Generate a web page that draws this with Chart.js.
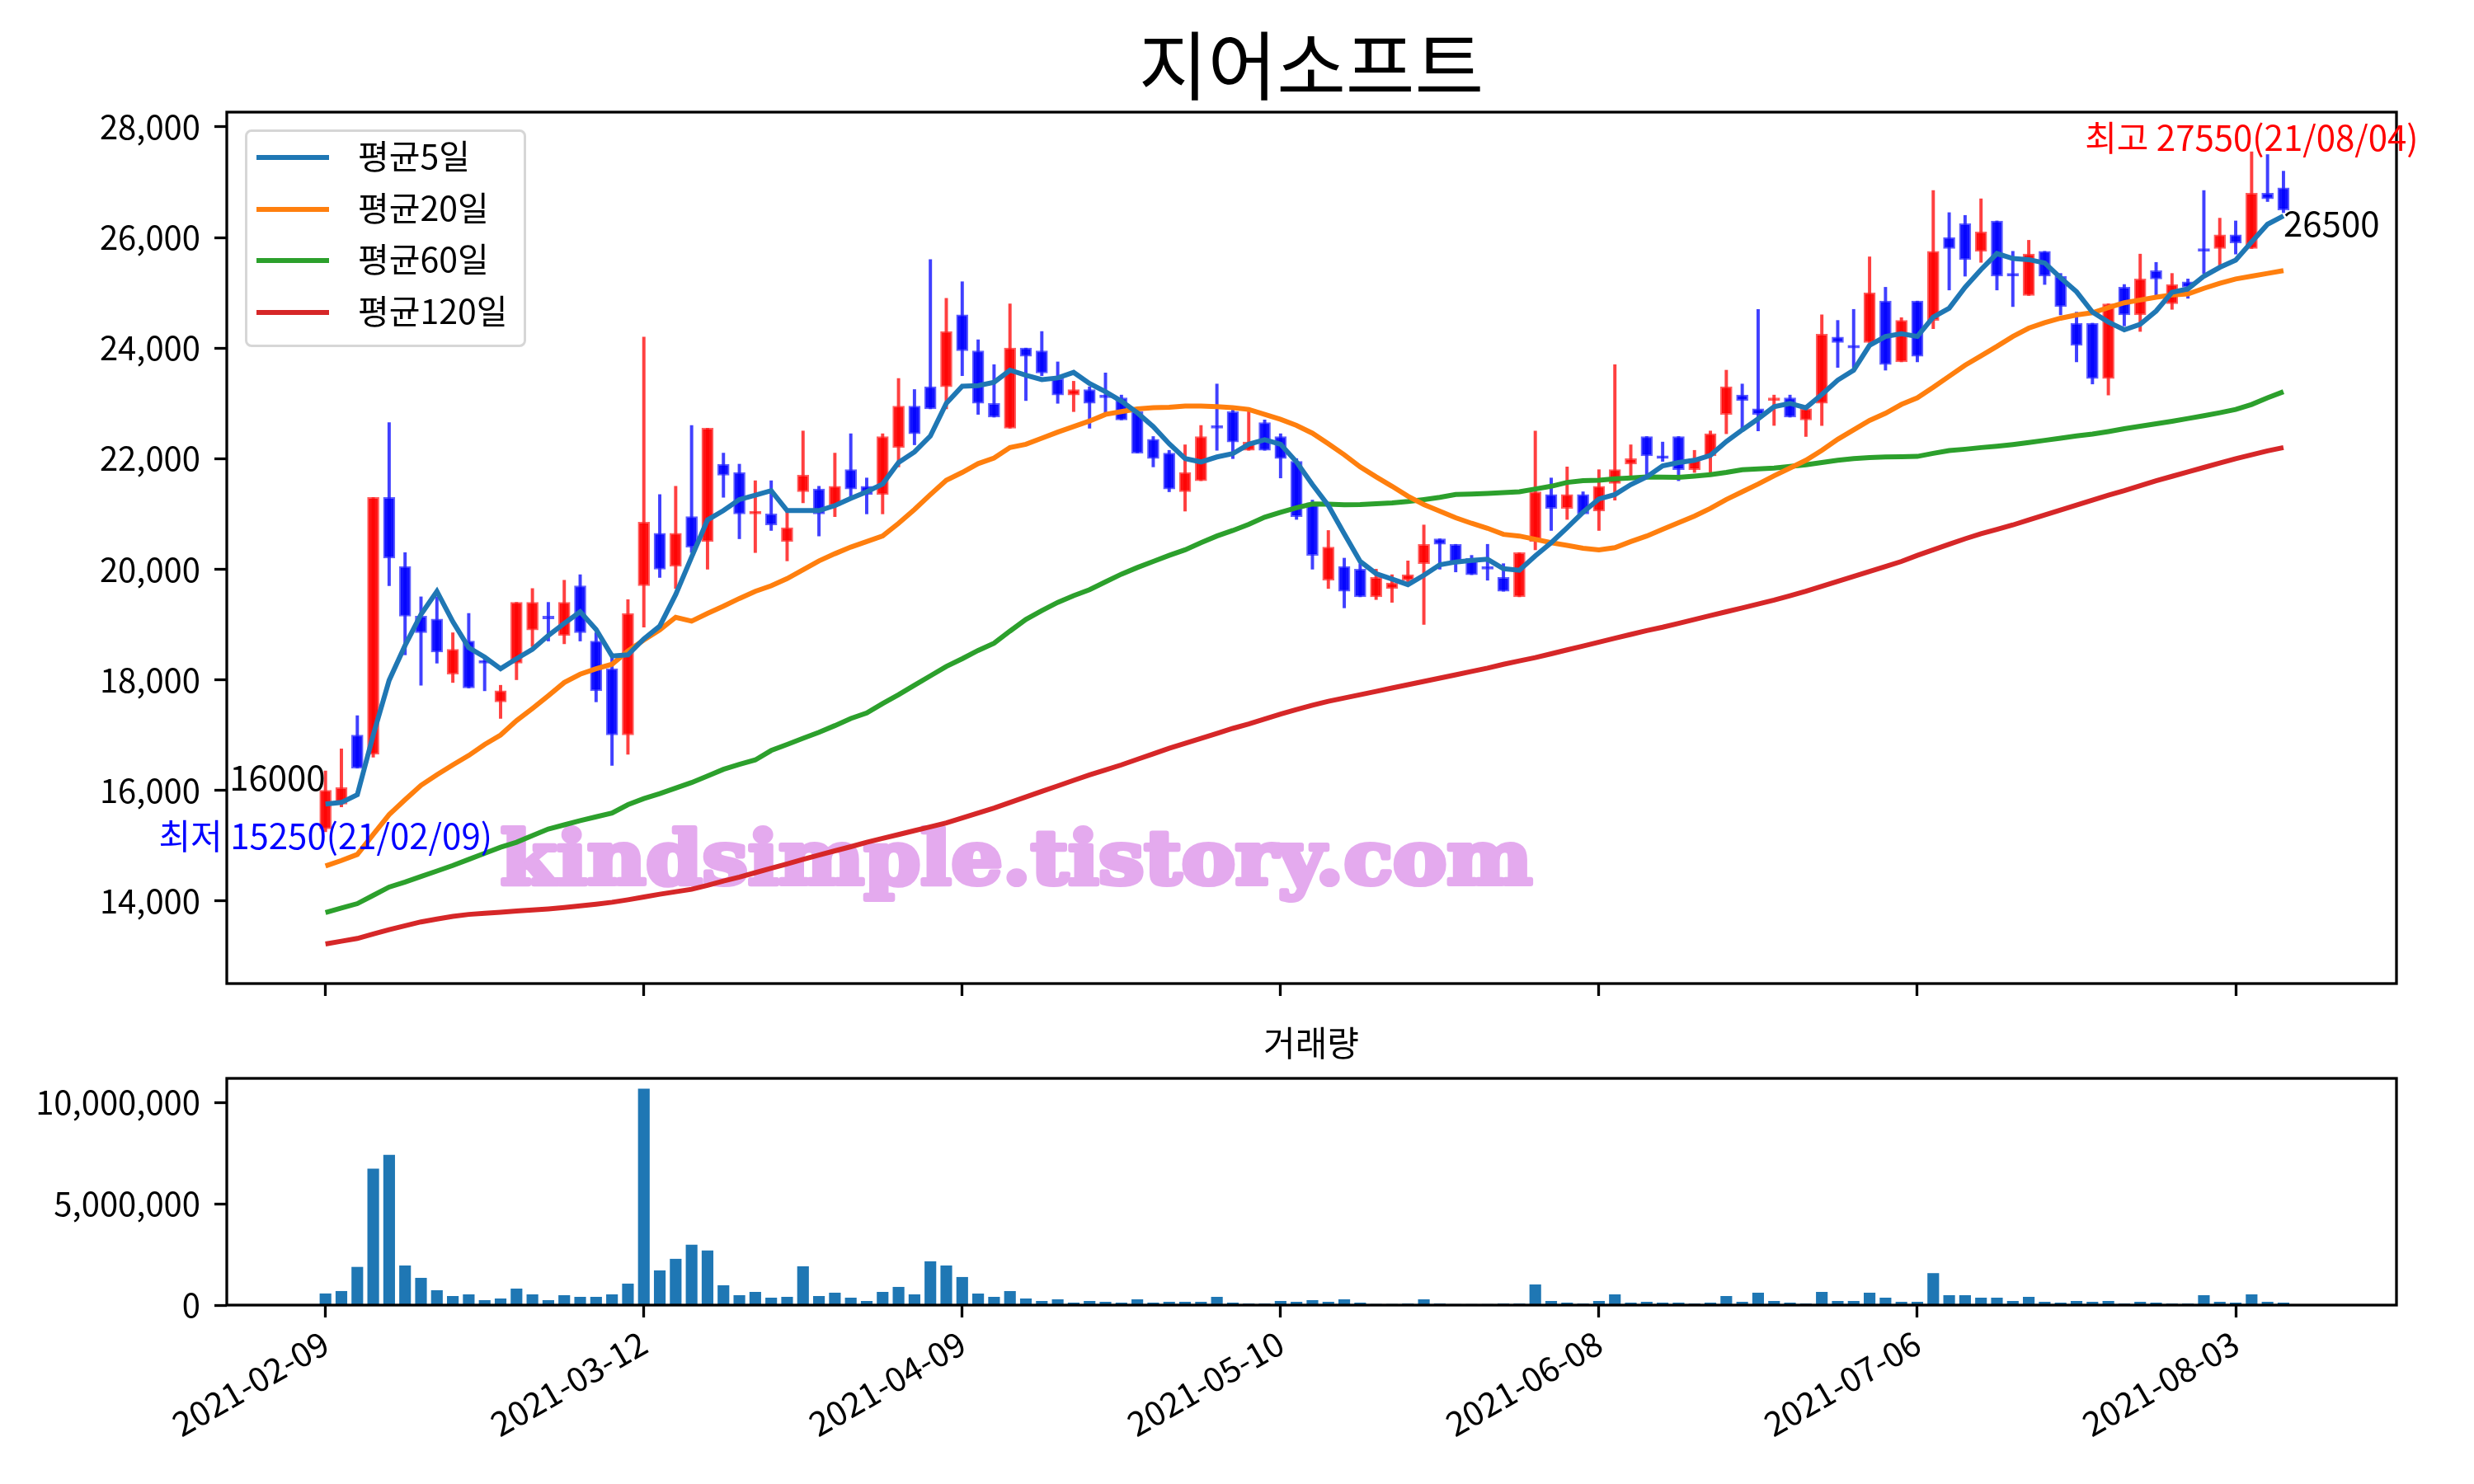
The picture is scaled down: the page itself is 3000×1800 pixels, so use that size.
<!DOCTYPE html>
<html>
<head>
<meta charset="utf-8">
<script src="https://cdn.jsdelivr.net/npm/chart.js@4.4.1/dist/chart.umd.min.js"></script>
<style>
  html, body { margin: 0; padding: 0; background: #fff; }
  #page { position: relative; width: 3000px; height: 1800px; overflow: hidden;
          font-family: "Noto Sans CJK KR", "Noto Sans", sans-serif; }
  canvas { position: absolute; left: 0; top: 0; }
  .txt { position: absolute; white-space: nowrap; line-height: 1; color: #000; }
  #legend { position: absolute; left: 297px; top: 157px; width: 341px; height: 264px;
            box-sizing: border-box; border: 3px solid #d6d6d6; border-radius: 8px;
            background: rgba(255,255,255,0.8); }
  .swatch { position: absolute; left: 311px; width: 88px; height: 6px; }
</style>
</head>
<body>
<div id="page">
  <canvas id="price" width="3000" height="1800"></canvas>
  <canvas id="volume" width="3000" height="1800"></canvas>
  <div class="txt" id="title" style="left:590px; width:2000px; text-align:center; top:29px; font-size:91px;">지어소프트</div>
  <div class="txt" id="volTitle" style="left:1090px; width:1000px; text-align:center; top:1242px; font-size:42px;">거래량</div>
  <div id="legend"></div>
  <div id="legendItems"></div>
</div>
<script>
// trading days 2021-02-09 .. 2021-08-06, x axis is the day index
const tickIndex = [0, 20, 40, 60, 80, 100, 120];
const tickLabels = ['2021-02-09', '2021-03-12', '2021-04-09', '2021-05-10', '2021-06-08', '2021-07-06', '2021-08-03'];
const priceTicks = [14000, 16000, 18000, 20000, 22000, 24000, 26000, 28000];
const volumeTicks = [0, 5000000, 10000000];

const open = [
  15300, 15750, 17000, 16650, 21300, 20050, 19150, 19100, 18100, 18700,
  18350, 17600, 18300, 18900, 19150, 18800, 19700, 18700, 18200, 17000,
  19700, 20650, 20050, 20950, 20500, 21900, 21750, 21000, 21000, 20500,
  21400, 21450, 21150, 21800, 21500, 21350, 22200, 22950, 23300, 23300,
  24600, 23950, 23000, 22550, 24000, 23950, 23450, 23150, 23250, 23150,
  23100, 22850, 22350, 22100, 21400, 21600, 22600, 22850, 22150, 22650,
  22400, 21950, 21200, 19800, 20050, 20000, 19500, 19650, 19800, 20100,
  20550, 20450, 20200, 20050, 19850, 19500, 20500, 21350, 21100, 21350,
  21050, 21550, 21900, 22400, 22050, 22400, 21800, 22050, 22800, 23150,
  22900, 23050, 23100, 22700, 23000, 24200, 24050, 24100, 24850, 23750,
  24850, 24500, 26000, 26250, 25750, 26300, 25350, 24950, 25750, 25300,
  24450, 24450, 23450, 25100, 24600, 25400, 24800, 25200, 25800, 25800,
  26050, 25800, 26800, 26900
];
const high = [
  16350, 16750, 17350, 21300, 22650, 20300, 19500, 19500, 18850, 19200,
  18400, 17900, 19400, 19650, 19400, 19800, 19900, 18850, 18450, 19450,
  24200, 21350, 21500, 22600, 22550, 22100, 21900, 21600, 21600, 21050,
  22500, 21500, 22100, 22450, 21650, 22450, 23450, 23250, 25600, 24900,
  25200, 24150, 23700, 24800, 24000, 24300, 23750, 23400, 23300, 23550,
  23150, 22900, 22400, 22150, 22250, 22600, 23350, 22900, 22850, 22700,
  22450, 22000, 21250, 20700, 20200, 20100, 20000, 19900, 20150, 20800,
  20550, 20450, 20250, 20450, 20100, 20300, 22500, 21650, 21850, 21400,
  21800, 23700, 22250, 22400, 22300, 22400, 22150, 22500, 23600, 23350,
  24700, 23150, 23150, 22950, 24600, 24500, 24700, 25650, 25100, 24550,
  24850, 26850, 26450, 26400, 26700, 26300, 25750, 25950, 25750, 25350,
  24650, 24450, 24800, 25150, 25700, 25550, 25350, 25250, 26850, 26350,
  26300, 27550, 27500, 27200
];
const low = [
  15250, 15700, 16400, 16600, 19700, 18450, 17900, 18300, 17950, 17850,
  17800, 17300, 18000, 18600, 18700, 18650, 18700, 17600, 16450, 16650,
  18950, 19850, 19650, 20300, 20000, 21300, 20550, 20300, 20700, 20150,
  21200, 20600, 20950, 21300, 21000, 21000, 21850, 22250, 22900, 22900,
  23500, 22800, 22750, 22550, 23050, 23500, 23000, 22850, 22550, 22800,
  22700, 22100, 21850, 21400, 21050, 21600, 22150, 22000, 22150, 22150,
  21650, 20900, 20000, 19650, 19300, 19500, 19450, 19400, 19750, 19000,
  20000, 19950, 19900, 19800, 19600, 19500, 20350, 20700, 20900, 21000,
  20700, 21250, 21650, 21700, 21950, 21600, 21750, 21750, 22450, 22550,
  22500, 22600, 22750, 22400, 22600, 23650, 23650, 24100, 23600, 23750,
  23750, 24350, 25050, 25300, 25550, 25050, 24750, 24950, 25150, 24600,
  23750, 23350, 23150, 24400, 24300, 24950, 24700, 24900, 25350, 25500,
  25700, 25800, 26650, 26450
];
const close = [
  16000, 16050, 16400, 21300, 20200, 19150, 18850, 18500, 18550, 17850,
  18300, 17800, 19400, 19400, 19100, 19400, 18850, 17800, 17000, 19200,
  20850, 20000, 20650, 20400, 22550, 21700, 21000, 21050, 20800, 20750,
  21700, 21000, 21500, 21450, 21350, 22400, 22950, 22450, 22900, 24300,
  23950, 23000, 22750, 24000, 23850, 23550, 23150, 23250, 23000, 23100,
  22700, 22100, 22000, 21450, 21750, 22400, 22550, 22300, 22300, 22150,
  22000, 20950, 20250, 20400, 19600, 19500, 19850, 19750, 19900, 20450,
  20450, 20100, 19900, 20000, 19600, 20300, 21400, 21100, 21350, 21000,
  21500, 21800, 22000, 22050, 22000, 21800, 22000, 22450, 23300, 23050,
  22800, 23100, 22750, 22900, 24250, 24100, 24000, 25000, 23700, 24500,
  23850, 25750, 25800, 25600, 26100, 25300, 25300, 25700, 25300, 24750,
  24050, 23450, 24800, 24600, 25250, 25250, 25150, 25100, 25750, 26050,
  25900, 26800, 26700, 26500
];
const volume = [
  560000, 680000, 1870000, 6710000, 7400000, 1940000, 1330000, 720000, 435000, 516000,
  231000, 312000, 801000, 516000, 231000, 475000, 394000, 394000, 516000, 1046000,
  10660000, 1698000, 2268000, 2960000, 2676000, 964000, 475000, 638000, 353000, 394000,
  1900000, 435000, 598000, 353000, 190000, 638000, 883000, 516000, 2146000, 1940000,
  1372000, 557000, 394000, 679000, 312000, 190000, 272000, 109000, 190000, 149000,
  109000, 272000, 109000, 149000, 149000, 149000, 394000, 109000, 68000, 68000,
  190000, 149000, 231000, 149000, 272000, 109000, 40000, 40000, 68000, 272000,
  68000, 35000, 35000, 35000, 68000, 68000, 1005000, 190000, 109000, 68000,
  190000, 516000, 109000, 149000, 109000, 109000, 68000, 109000, 435000, 149000,
  598000, 190000, 109000, 68000, 638000, 190000, 190000, 598000, 353000, 149000,
  149000, 1563000, 475000, 475000, 353000, 353000, 190000, 394000, 149000, 109000,
  190000, 149000, 190000, 68000, 149000, 109000, 68000, 68000, 475000, 149000,
  109000, 516000, 149000, 109000
];

// moving averages
const ma5 = [
  15750, 15780, 15920, 17000, 17990, 18620, 19180, 19600, 19050, 18580,
  18410, 18200, 18380, 18550, 18800, 19020, 19230, 18910, 18430, 18450,
  18740, 18970, 19540, 20220, 20890, 21060, 21260, 21340, 21420, 21060,
  21060, 21060, 21150, 21280, 21400, 21540, 21930, 22120, 22410, 23000,
  23310, 23320, 23380, 23600, 23510, 23430, 23460, 23560, 23360, 23210,
  23040, 22830, 22580, 22270, 22000, 21940, 22030, 22090, 22260, 22340,
  22260, 21940, 21530, 21150, 20640, 20140, 19920, 19820, 19720, 19890,
  20080, 20130, 20160, 20180, 20010, 19980, 20240, 20480, 20750, 21030,
  21270, 21350, 21530, 21670, 21870, 21930, 21970, 22060, 22310, 22520,
  22720, 22940, 23000, 22920, 23160, 23420, 23600, 24050, 24210, 24260,
  24210, 24560, 24720, 25100, 25420, 25710, 25620, 25600, 25540, 25270,
  25020, 24650, 24470, 24330, 24430, 24670, 25010, 25070, 25300, 25460,
  25590, 25920, 26240, 26390
];
const ma20 = [
  14630, 14730, 14840, 15200, 15560, 15830, 16090, 16280, 16460, 16630,
  16830, 17000, 17260, 17480, 17710, 17950, 18100, 18200, 18280, 18520,
  18720, 18900, 19130, 19060, 19200, 19330, 19470, 19600, 19700, 19830,
  19990, 20150, 20280, 20400, 20500, 20600, 20830, 21080, 21350, 21610,
  21750, 21910, 22010, 22200, 22260, 22370, 22480, 22580, 22680, 22800,
  22850, 22900, 22920, 22930, 22950, 22950, 22940, 22920, 22890, 22800,
  22710, 22600, 22460, 22270, 22070, 21850, 21670, 21500, 21320, 21170,
  21050, 20930, 20830, 20740, 20630, 20600, 20540, 20480, 20430, 20380,
  20350, 20390, 20500, 20600, 20720, 20840, 20960, 21100, 21260, 21400,
  21540, 21690, 21830, 21970, 22150, 22350, 22520, 22690, 22820, 22980,
  23100, 23290, 23490, 23690, 23860, 24030, 24210, 24360, 24460, 24540,
  24600, 24640, 24730, 24820, 24870, 24920, 24960, 24980, 25080, 25170,
  25250, 25300, 25350, 25400
];
const ma60 = [
  13790, 13870, 13950, 14100, 14250, 14340, 14440, 14540, 14640, 14750,
  14860, 14970, 15060, 15180, 15300, 15375, 15450, 15520, 15590, 15740,
  15850, 15940, 16040, 16140, 16260, 16380, 16470, 16550, 16720, 16830,
  16940, 17050, 17170, 17300, 17400, 17570, 17730, 17900, 18070, 18240,
  18380, 18530, 18660, 18880, 19090, 19250, 19400, 19520, 19630, 19770,
  19910, 20030, 20140, 20250, 20350, 20480, 20600, 20700, 20810, 20940,
  21030, 21110, 21180, 21175, 21165, 21170, 21185, 21200, 21225, 21260,
  21300, 21350, 21360, 21370, 21385, 21400, 21450, 21500, 21570, 21600,
  21610, 21635, 21650, 21670, 21665, 21660, 21685, 21710, 21750, 21800,
  21815, 21830, 21860, 21890, 21930, 21970, 22000, 22020, 22030, 22035,
  22040, 22095, 22145, 22170, 22200, 22225, 22255, 22290, 22330, 22370,
  22410, 22445, 22490, 22540, 22585, 22630, 22675, 22725, 22775, 22830,
  22890, 22980, 23100, 23210
];
const ma120 = [
  13220, 13270, 13320, 13400, 13480, 13550, 13620, 13670, 13720, 13755,
  13775, 13795, 13815, 13835, 13855, 13880, 13910, 13940, 13975, 14020,
  14070, 14120, 14165, 14210, 14280, 14360, 14430, 14510, 14590, 14670,
  14750, 14830, 14905, 14980, 15060, 15130, 15200, 15270, 15340, 15410,
  15500, 15590, 15680, 15780, 15880, 15980, 16080, 16180, 16280, 16370,
  16460, 16560, 16660, 16760, 16850, 16940, 17030, 17120, 17200, 17290,
  17380, 17460, 17540, 17610, 17670, 17730, 17790, 17850, 17910, 17970,
  18030, 18090, 18150, 18210, 18280, 18340, 18400, 18470, 18540, 18610,
  18680, 18750, 18820, 18890, 18950, 19020, 19090, 19160, 19230, 19300,
  19370, 19440, 19520, 19600, 19690, 19780, 19870, 19960, 20050, 20140,
  20250, 20350, 20450, 20550, 20640, 20720, 20800, 20890, 20980, 21070,
  21160, 21250, 21340, 21420, 21510, 21600, 21680, 21760, 21840, 21920,
  22000, 22070, 22140, 22200
];
const maLabels = ['평균5일', '평균20일', '평균60일', '평균120일'];
const maColors = ['#1f77b4', '#ff7f0e', '#2ca02c', '#d62728'];

// annotation anchors
const lowNote = { idx: 0, date: '21/02/09' };
const highNote = { idx: 121, date: '21/08/04' };

const FONT = '"Noto Sans CJK KR", "Noto Sans", sans-serif';
Chart.defaults.font.family = FONT;
Chart.defaults.font.size = 40;
Chart.defaults.color = '#000';

const days = close.map((_, i) => i);
const isUp = close.map((c, i) => c >= open[i]);

// legend (html)
const legendItems = document.getElementById('legendItems');
maLabels.forEach((name, k) => {
    const top = 190.7 + k * 62.8;
    const sw = document.createElement('div');
    sw.className = 'swatch';
    sw.style.top = (top - 3) + 'px';
    sw.style.background = maColors[k];
    legendItems.appendChild(sw);
    const t = document.createElement('div');
    t.className = 'txt';
    t.style.left = '434px';
    t.style.top = (top - 24) + 'px';
    t.style.fontSize = '41px';
    t.textContent = name;
    legendItems.appendChild(t);
});

const frame = {
    id: 'frame',
    afterDraw(chart) {
        const { ctx, chartArea: a } = chart;
        ctx.save();
        ctx.lineWidth = 3.3;
        ctx.strokeStyle = '#000';
        ctx.strokeRect(a.left, a.top, a.right - a.left, a.bottom - a.top);
        ctx.restore();
    }
};

const watermark = {
    id: 'watermark',
    beforeDatasetsDraw(chart) {
        const { ctx, chartArea: a } = chart;
        const text = 'kindsimple.tistory.com';
        ctx.save();
        ctx.font = 'bold 90px "DejaVu Serif"';
        const w = ctx.measureText(text).width;
        const left = a.left + (a.right - a.left) * 0.1262;
        const span = (a.right - a.left) * 0.4755;
        ctx.translate(left, a.top + (a.bottom - a.top) * 0.8855);
        ctx.scale(span / w, 1);
        ctx.fillStyle = '#e4aaee';
        ctx.strokeStyle = '#e4aaee';
        ctx.lineWidth = 6;
        ctx.lineJoin = 'round';
        ctx.textBaseline = 'alphabetic';
        ctx.strokeText(text, 0, 0);
        ctx.fillText(text, 0, 0);
        ctx.restore();
    }
};

const notes = {
    id: 'notes',
    afterDraw(chart) {
        const { ctx } = chart;
        const x = chart.scales.x, y = chart.scales.y;
        const n = close.length;
        const minLow = Math.min(...low);
        const maxHigh = Math.max(...high);
        ctx.save();
        ctx.font = '42px ' + FONT;
        ctx.textBaseline = 'alphabetic';

        ctx.fillStyle = '#000';
        ctx.textAlign = 'right';
        ctx.fillText(String(close[0]), x.getPixelForValue(0), y.getPixelForValue(close[0]));
        ctx.textAlign = 'left';
        ctx.fillText(String(close[n - 1]), x.getPixelForValue(n - 1), y.getPixelForValue(close[n - 1]) + 32);

        ctx.textAlign = 'center';
        ctx.fillStyle = '#0000ff';
        ctx.fillText('최저 ' + minLow + '(' + lowNote.date + ')',
            x.getPixelForValue(lowNote.idx), y.getPixelForValue(minLow) + 21);
        ctx.fillStyle = '#ff0000';
        ctx.fillText('최고 ' + maxHigh + '(' + highNote.date + ')',
            x.getPixelForValue(highNote.idx), y.getPixelForValue(maxHigh) - 1);
        ctx.restore();
    }
};

const tickMarks = {
    display: true,
    drawOnChartArea: false,
    drawTicks: true,
    tickLength: 15,
    tickWidth: 3.3,
    tickColor: '#000'
};

function xScale(showLabels, height) {
    return {
        type: 'linear',
        min: -6.2,
        max: 130.1,
        offset: false,
        grid: Object.assign({ offset: false }, tickMarks),
        border: { display: false },
        afterBuildTicks: (s) => { s.ticks = tickIndex.map(v => ({ value: v })); },
        afterFit: (s) => { s.height = height; },
        ticks: {
            autoSkip: false,
            padding: 6,
            font: { size: 41 },
            minRotation: showLabels ? 30 : 0,
            maxRotation: showLabels ? 30 : 0,
            callback: (v) => showLabels ? tickLabels[tickIndex.indexOf(v)] : ''
        }
    };
}

function yScale(min, max, tickValues) {
    return {
        type: 'linear',
        min: min,
        max: max,
        grid: tickMarks,
        border: { display: false },
        afterBuildTicks: (s) => { s.ticks = tickValues.map(v => ({ value: v })); },
        afterFit: (s) => { s.width = 275; },
        ticks: {
            padding: 17,
            callback: (v) => v.toLocaleString('en-US')
        }
    };
}

const lineSets = [ma5, ma20, ma60, ma120].map((arr, k) => ({
    type: 'line',
    label: maLabels[k],
    data: days.map(i => ({ x: i, y: arr[i] })),
    borderColor: maColors[k],
    borderWidth: 6,
    pointRadius: 0,
    tension: 0,
    fill: false,
    order: 1
}));

new Chart(document.getElementById('price'), {
    type: 'bar',
    data: {
        datasets: [
            ...lineSets,
            {
                type: 'bar',
                label: 'body',
                data: days.map(i => ({ x: i, y: [open[i], close[i]] })),
                backgroundColor: isUp.map(u => u ? 'rgba(255,0,0,0.92)' : 'rgba(0,0,255,0.92)'),
                borderColor: isUp.map(u => u ? 'rgba(255,40,40,0.75)' : 'rgba(40,40,255,0.75)'),
                borderWidth: 2,
                borderSkipped: false,
                barThickness: 14,
                grouped: false,
                order: 2
            },
            {
                type: 'bar',
                label: 'wick',
                data: days.map(i => ({ x: i, y: [low[i], high[i]] })),
                backgroundColor: isUp.map(u => u ? 'rgba(255,30,30,0.85)' : 'rgba(30,30,255,0.85)'),
                barThickness: 3.3,
                grouped: false,
                order: 3
            }
        ]
    },
    options: {
        responsive: false,
        animation: false,
        devicePixelRatio: 1,
        layout: { padding: { left: 0, right: 94, top: 136, bottom: 507 } },
        plugins: { legend: { display: false }, tooltip: { enabled: false } },
        scales: {
            x: xScale(false, 100),
            y: yScale(12504, 28268, priceTicks)
        }
    },
    plugins: [watermark, frame, notes]
});

new Chart(document.getElementById('volume'), {
    type: 'bar',
    data: {
        datasets: [{
            label: '거래량',
            data: days.map(i => ({ x: i, y: volume[i] })),
            backgroundColor: '#1f77b4',
            barThickness: 13.5,
            grouped: false
        }]
    },
    options: {
        responsive: false,
        animation: false,
        devicePixelRatio: 1,
        layout: { padding: { left: 0, right: 94, top: 1308, bottom: 17 } },
        plugins: { legend: { display: false }, tooltip: { enabled: false } },
        scales: {
            x: xScale(true, 200),
            y: yScale(0, 11180000, volumeTicks)
        }
    },
    plugins: [frame]
});
</script>
</body>
</html>
